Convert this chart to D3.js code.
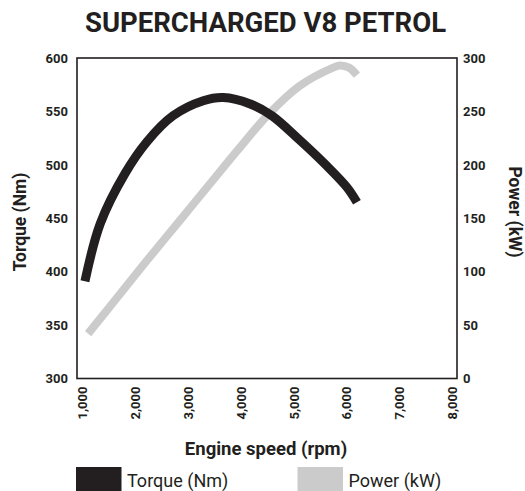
<!DOCTYPE html>
<html>
<head>
<meta charset="utf-8">
<script src="https://cdn.jsdelivr.net/npm/d3@7"></script>
<style>
  html, body { margin: 0; padding: 0; background: #fff; }
  svg { display: block; }
  text { font-family: Roboto, "Liberation Sans", sans-serif; fill: #231f20; }
</style>
</head>
<body>
<svg id="chart" width="525" height="491"></svg>
<script>
// Engine speed ticks (rpm)
const rpmTicks = [1000, 2000, 3000, 4000, 5000, 6000, 7000, 8000];
const torqueTicks = [300, 350, 400, 450, 500, 550, 600];
const powerTicks = [0, 50, 100, 150, 200, 250, 300];

// Torque curve (rpm, Nm)
const torqueRpm = [1050, 1340, 1810, 2230, 2720, 3290, 3670, 4180, 4590, 5120, 5630, 6010, 6200];
const torqueNm  = [391, 445, 492, 522, 546, 560, 563, 557, 546, 523, 499, 479, 465];

// Power curve (rpm, kW)
const powerRpm = [1110, 1600, 2200, 2850, 3480, 3930, 4520, 5120, 5750, 5880, 6050, 6200];
const powerKw  = [42, 72, 109, 148, 186, 213, 247, 274, 291, 293, 291, 284];

const ink = "#231f20";
const grey = "#cbcbcb";

const svg = d3.select("#chart");

// plot frame
const frame = { left: 77, right: 457, top: 58, bottom: 378.5 };

const x = d3.scaleLinear().domain([1000, 8000]).range([82.3, 452]);
const yT = d3.scaleLinear().domain([300, 600]).range([frame.bottom, frame.top]);
const yP = d3.scaleLinear().domain([0, 300]).range([frame.bottom, frame.top]);

// Title
svg.append("text")
  .attr("x", 265.5).attr("y", 32)
  .attr("text-anchor", "middle")
  .style("font-size", "27.5px").style("font-weight", 700)
  .text("SUPERCHARGED V8 PETROL");

// Curves
const torqueData = torqueRpm.map((r, i) => [r, torqueNm[i]]);
const powerData = powerRpm.map((r, i) => [r, powerKw[i]]);
const smooth = d3.curveCatmullRom.alpha(0.5);

svg.append("path")
  .datum(powerData)
  .attr("fill", "none").attr("stroke", grey).attr("stroke-width", 8)
  .attr("d", d3.line().x(d => x(d[0])).y(d => yP(d[1])).curve(smooth));

svg.append("path")
  .datum(torqueData)
  .attr("fill", "none").attr("stroke", ink).attr("stroke-width", 9)
  .attr("d", d3.line().x(d => x(d[0])).y(d => yT(d[1])).curve(smooth));

// Frame
svg.append("rect")
  .attr("x", frame.left).attr("y", frame.top)
  .attr("width", frame.right - frame.left).attr("height", frame.bottom - frame.top)
  .attr("fill", "none").attr("stroke", ink).attr("stroke-width", 1.6);

// Left axis (torque)
const leftAxis = d3.axisLeft(yT).tickValues(torqueTicks).tickSize(0).tickPadding(0);
const gL = svg.append("g").attr("transform", "translate(68,0)").call(leftAxis);
gL.select(".domain").remove();
gL.selectAll("text").style("font-size", "13px").style("font-weight", 700)
  .style("font-family", "Roboto, sans-serif").attr("fill", ink);

// Right axis (power)
const rightAxis = d3.axisRight(yP).tickValues(powerTicks).tickSize(0).tickPadding(0);
const gR = svg.append("g").attr("transform", "translate(463,0)").call(rightAxis);
gR.select(".domain").remove();
gR.selectAll("text").style("font-size", "13px").style("font-weight", 700)
  .style("font-family", "Roboto, sans-serif").attr("fill", ink);

// Bottom axis (engine speed), rotated labels
const bottomAxis = d3.axisBottom(x).tickValues(rpmTicks).tickSize(0).tickFormat(d3.format(","));
const gB = svg.append("g").attr("transform", `translate(0,${frame.bottom})`).call(bottomAxis);
gB.select(".domain").remove();
gB.selectAll("text")
  .style("font-size", "13px").style("font-weight", 700)
  .style("font-family", "Roboto, sans-serif").attr("fill", ink)
  .attr("text-anchor", "end")
  .attr("transform", "rotate(-90)")
  .attr("x", -8).attr("y", 0).attr("dy", "0.35em");

// Axis titles
svg.append("text")
  .attr("transform", "translate(26,222) rotate(-90)")
  .attr("text-anchor", "middle")
  .style("font-size", "17.5px").style("font-weight", 700)
  .text("Torque (Nm)");

svg.append("text")
  .attr("transform", "translate(509,212) rotate(90)")
  .attr("text-anchor", "middle")
  .style("font-size", "17.5px").style("font-weight", 700)
  .text("Power (kW)");

svg.append("text")
  .attr("x", 266).attr("y", 455)
  .attr("text-anchor", "middle")
  .style("font-size", "18.5px").style("font-weight", 700)
  .text("Engine speed (rpm)");

// Legend
const legend = [
  { label: "Torque (Nm)", color: ink, x: 76 },
  { label: "Power (kW)", color: grey, x: 297.5 }
];
const lg = svg.append("g").selectAll("g").data(legend).join("g")
  .attr("transform", d => `translate(${d.x},467)`);
lg.append("rect").attr("width", 45.5).attr("height", 24).attr("fill", d => d.color);
lg.append("text").attr("x", 51).attr("y", 19.5)
  .style("font-size", "18px").style("font-weight", 400)
  .text(d => d.label);
</script>
</body>
</html>
